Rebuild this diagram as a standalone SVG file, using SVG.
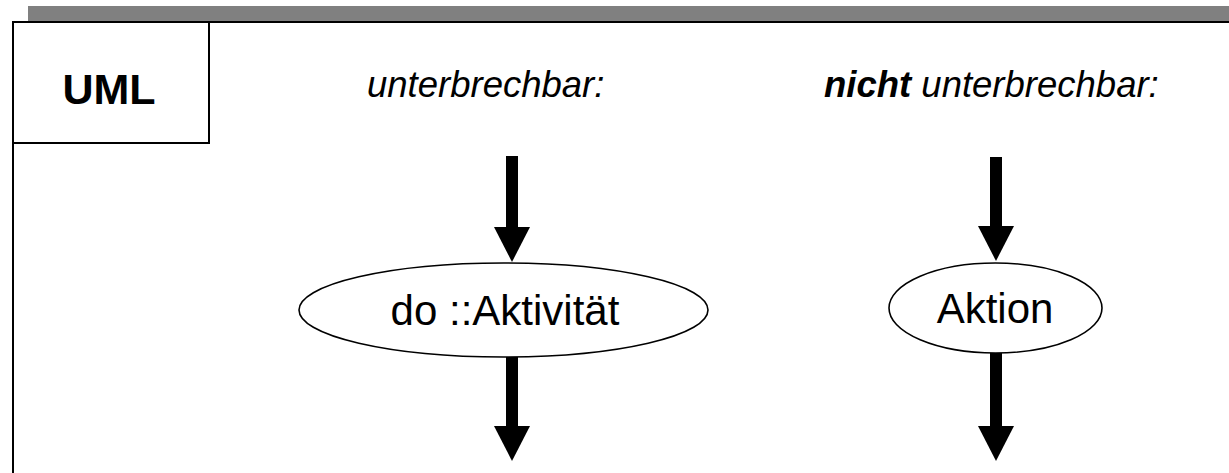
<svg xmlns="http://www.w3.org/2000/svg" width="1229" height="473" viewBox="0 0 1229 473">
  <style>
    .frame { fill: none; stroke: #000; stroke-width: 2; }
    .node { fill: #fff; stroke: #000; stroke-width: 1.6; }
    .label { font-family: "Liberation Sans", Arial, sans-serif; fill: #000; }
    .head { font-size: 36.5px; font-style: italic; }
    .inner { font-size: 42px; text-anchor: middle; }
    .flow { stroke: #000; stroke-width: 12; fill: none; marker-end: url(#arrow); }
  </style>
  <defs>
    <marker id="arrow" markerUnits="userSpaceOnUse" viewBox="0 0 35 36" refX="0" refY="18" markerWidth="35" markerHeight="36" orient="auto">
      <path d="M0,0 L35,18 L0,36 z" fill="#000"/>
    </marker>
  </defs>

  <rect width="1229" height="473" fill="#fff"/>

  <!-- header bar and frame -->
  <rect x="28" y="6" width="1201" height="15" fill="#808080"/>
  <path class="frame" d="M1229,22 H13 V473"/>

  <g id="uml-tag">
    <rect class="frame" x="13" y="22" width="196" height="121"/>
    <text class="label" x="109" y="104" font-size="43" font-weight="bold" text-anchor="middle">UML</text>
  </g>

  <g id="title-interruptible">
    <text class="label head" x="367" y="97">unterbrechbar:</text>
  </g>
  <g id="title-uninterruptible">
    <text class="label head" x="824" y="97"><tspan font-weight="bold">nicht</tspan> unterbrechbar:</text>
  </g>

  <g id="activity">
    <ellipse class="node" cx="503.5" cy="310" rx="204.5" ry="47"/>
    <text class="label inner" x="505" y="325">do ::Aktivität</text>
  </g>

  <g id="action">
    <ellipse class="node" cx="995.5" cy="308" rx="106.5" ry="45"/>
    <text class="label inner" x="995" y="323">Aktion</text>
  </g>

  <g id="connectors">
    <line class="flow" x1="512" y1="156" x2="512" y2="227"/>
    <line class="flow" x1="512" y1="357" x2="512" y2="426"/>
    <line class="flow" x1="996" y1="157" x2="996" y2="226"/>
    <line class="flow" x1="996" y1="353" x2="996" y2="426"/>
  </g>
</svg>
